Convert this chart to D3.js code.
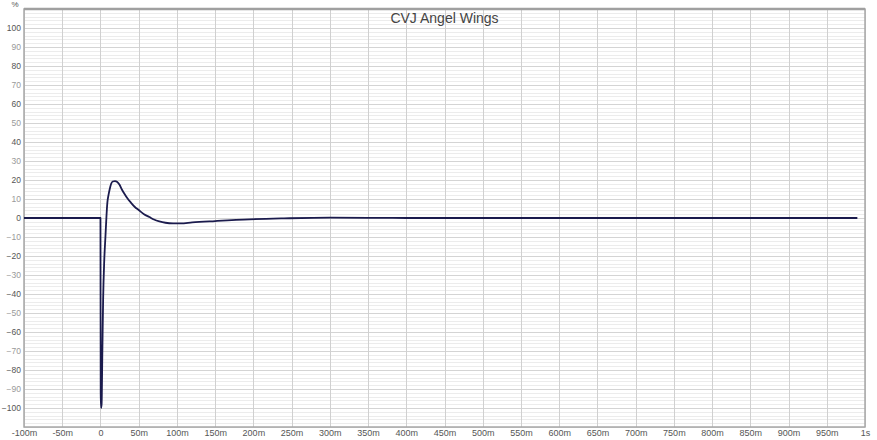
<!DOCTYPE html>
<html>
<head>
<meta charset="utf-8">
<script src="https://cdn.jsdelivr.net/npm/d3@7"></script>
<style>
  body { margin: 0; background: #fff; }
  svg { display: block; font-family: "Liberation Sans", Arial, sans-serif; }
</style>
</head>
<body>
<svg id="chart"></svg>
<script>
// impulse response, time in ms, level in %
var timeMs = [-100, 0, 0.3, 0.8, 1.5, 2.5, 3.5, 5, 6.5, 8, 9, 10.5, 12, 14, 16, 19, 22, 25,
              28, 31, 35, 40, 45, 50, 57, 64, 70, 77, 85, 95, 105, 120, 150, 195, 240,
              300, 350, 400, 500, 600, 700, 800, 900, 990];
var percent = [0, 0, -92, -100, -98, -70, -43, -22, -10, 2, 8, 12, 15, 18, 19.2, 19.4, 19, 17.5,
               15, 13, 10.5, 8, 5.8, 4.2, 2, 0.5, -0.8, -1.8, -2.5, -2.8, -2.8, -2.3, -1.6, -0.7, -0.2,
               0.2, 0.1, 0, 0, 0, 0, 0, 0, 0];

var xTicks = [-100, -50, 0, 50, 100, 150, 200, 250, 300, 350, 400, 450, 500, 550, 600, 650,
              700, 750, 800, 850, 900, 950, 1000];
var xTickLabels = ["-100m", "-50m", "0", "50m", "100m", "150m", "200m", "250m", "300m", "350m",
                   "400m", "450m", "500m", "550m", "600m", "650m", "700m", "750m", "800m",
                   "850m", "900m", "950m", "1s"];
var yTicks = [100, 90, 80, 70, 60, 50, 40, 30, 20, 10, 0, -10, -20, -30, -40, -50, -60, -70, -80, -90, -100];
var yMinor = d3.range(-110, 111, 2);

var titulo = "CVJ Angel Wings";

var w = 877, h = 440;
var mLeft = 24, mRight = 865, mTop = 9, mBottom = 427;

var svg = d3.select("#chart").attr("width", w).attr("height", h);

var xScale = d3.scaleLinear().domain([-100, 1000]).range([mLeft, mRight]);
var yScale = d3.scaleLinear().domain([-110, 110]).range([mBottom, mTop]);

// cuadricula menor (cada 2 %)
svg.append("g")
   .selectAll("line")
   .data(yMinor)
   .join("line")
   .attr("x1", mLeft).attr("x2", mRight)
   .attr("y1", d => Math.round(yScale(d)) + 0.5)
   .attr("y2", d => Math.round(yScale(d)) + 0.5)
   .attr("stroke", d => d % 10 === 0 ? "#d4d4d4" : "#ececec")
   .attr("stroke-width", 1);

// cuadricula vertical
svg.append("g")
   .selectAll("line")
   .data(xTicks)
   .join("line")
   .attr("x1", d => Math.round(xScale(d)) + 0.5)
   .attr("x2", d => Math.round(xScale(d)) + 0.5)
   .attr("y1", mTop).attr("y2", mBottom)
   .attr("stroke", "#d0d0d0")
   .attr("stroke-width", 1);

// marco
svg.append("rect")
   .attr("x", mLeft).attr("y", mTop)
   .attr("width", mRight - mLeft).attr("height", mBottom - mTop)
   .attr("fill", "none")
   .attr("stroke", "#a8a8a8")
   .attr("stroke-width", 1.5);
svg.append("line")
   .attr("x1", mLeft).attr("x2", mRight)
   .attr("y1", mTop).attr("y2", mTop)
   .attr("stroke", "#a0a0a0").attr("stroke-width", 2.5);

// ejes
var xAxis = d3.axisBottom(xScale)
              .tickValues(xTicks)
              .tickFormat((d, i) => xTickLabels[i])
              .tickSize(0)
              .tickPadding(0);
svg.append("g")
   .attr("transform", "translate(0," + (mBottom + 3) + ")")
   .call(xAxis)
   .call(g => g.select(".domain").remove())
   .selectAll("text")
   .attr("fill", "#555")
   .style("font-size", "9px");

var yAxis = d3.axisLeft(yScale)
              .tickValues(yTicks)
              .tickSize(0)
              .tickPadding(3);
svg.append("g")
   .attr("transform", "translate(" + mLeft + ",0)")
   .call(yAxis)
   .call(g => g.select(".domain").remove())
   .selectAll("text")
   .attr("fill", d => (d / 10) % 2 === 0 ? "#555" : "#999")
   .style("font-size", "8.5px");

// unidad
svg.append("text")
   .attr("x", 15).attr("y", 7)
   .attr("text-anchor", "middle")
   .attr("fill", "#555")
   .style("font-size", "8px")
   .text("%");

// titulo
svg.append("text")
   .attr("x", (mLeft + mRight) / 2).attr("y", 23)
   .attr("text-anchor", "middle")
   .attr("fill", "#444")
   .style("font-size", "14px")
   .text(titulo);

// curva
var dataset = timeMs.map((t, i) => ({t: t, v: percent[i]}));
var line = d3.line()
             .x(d => xScale(d.t))
             .y(d => yScale(d.v))
             .curve(d3.curveMonotoneX);

svg.append("path")
   .datum(dataset)
   .attr("fill", "none")
   .attr("stroke", "#1b1b4d")
   .attr("stroke-width", 1.8)
   .attr("stroke-linejoin", "round")
   .attr("d", line);
</script>
</body>
</html>
